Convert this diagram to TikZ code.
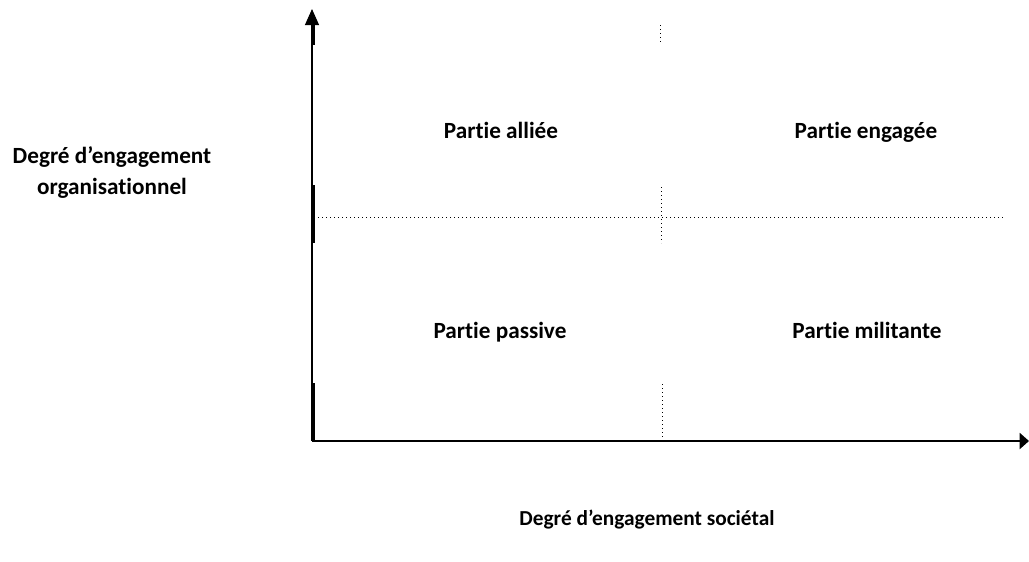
\documentclass[tikz,border=0pt]{standalone}
\usepackage{fontspec}
\setmainfont[Ligatures={NoCommon}]{Carlito}
\usetikzlibrary{arrows.meta}
\begin{document}
\begin{tikzpicture}[x=0.75pt,y=-0.75pt,
  label/.style={font=\bfseries\fontsize{17.4pt}{23.25pt}\selectfont, inner sep=0pt, align=center, anchor=base},
  axisthin/.style={line width=0.8pt},
  axisthick/.style={line width=1.5pt},
  gridline/.style={line width=0.75pt, dash pattern=on 1pt off 2pt}]
\useasboundingbox (0,0) rectangle (1029,561);

% axis end points
\coordinate (O) at (312,441);
\coordinate (Ytop) at (312,9);
\coordinate (Xend) at (1029,441);

% vertical axis with its reinforced segments
\draw[axisthin, -{Triangle[length=12pt,width=10.5pt]}] (O) -- (Ytop);
\coordinate (v1a) at (313.5,25);  \coordinate (v1b) at (313.5,45);
\coordinate (v2a) at (313.5,185); \coordinate (v2b) at (313.5,243);
\coordinate (v3a) at (313.5,383); \coordinate (v3b) at (313.5,441);
\draw[axisthick] (v1a) -- (v1b);
\draw[axisthick] (v2a) -- (v2b);
\draw[axisthick] (v3a) -- (v3b);

% horizontal axis
\draw[axisthick, -{Triangle[length=7pt,width=12pt]}] (O) -- (Xend);

% dotted separators
\coordinate (h1) at (318,217.5);  \coordinate (h2) at (1005,217.5);
\draw[gridline] (h1) -- (h2);
\coordinate (d1a) at (660,25);  \coordinate (d1b) at (660,43);
\coordinate (d2a) at (661,187); \coordinate (d2b) at (661,243);
\coordinate (d3a) at (662,384); \coordinate (d3b) at (662,440);
\draw[gridline] (d1a) -- (d1b);
\draw[gridline] (d2a) -- (d2b);
\draw[gridline] (d3a) -- (d3b);

% quadrant labels
\node[label] (allie) at (501,138) {Partie alliée};
\node[label] (engage) at (866,138) {Partie engagée};
\node[label] (passive) at (500,338) {Partie passive};
\node[label] (milit) at (867,338) {Partie militante};

% axis titles
\node[label] (ytitle) at (112,194) {Degré d’engagement\\organisationnel};
\node[label, font=\bfseries\fontsize{16pt}{20pt}\selectfont] (xtitle) at (647,525) {Degré d’engagement sociétal};
\end{tikzpicture}
\end{document}
